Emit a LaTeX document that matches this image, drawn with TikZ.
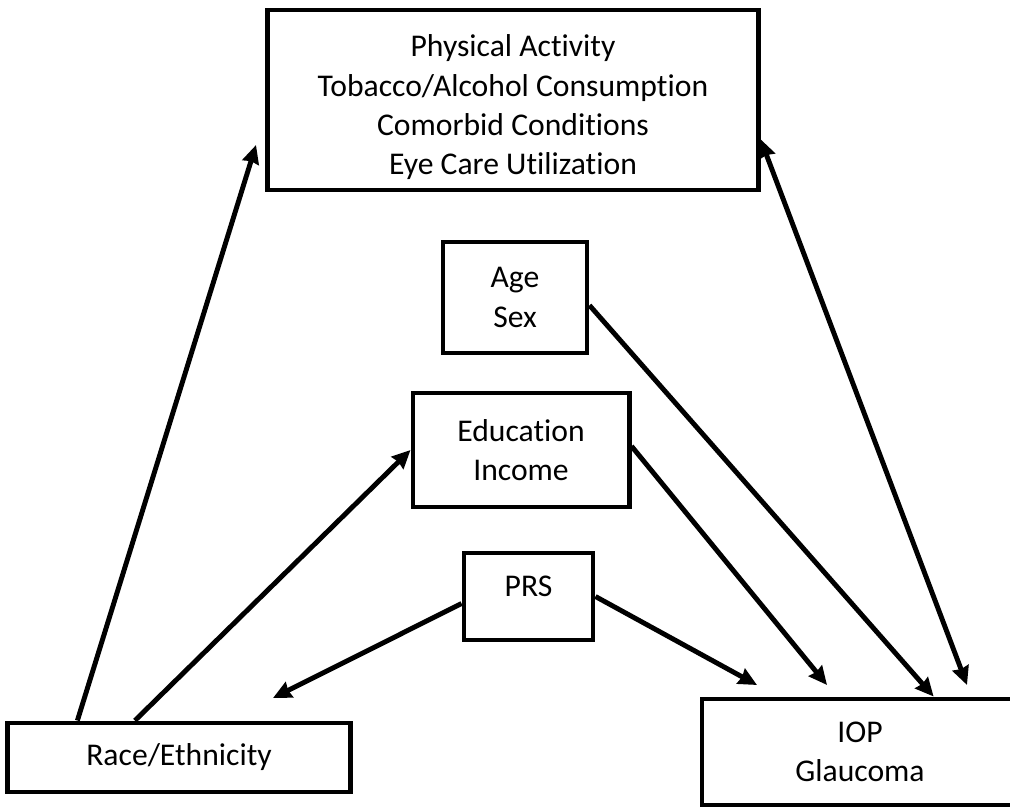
\documentclass[tikz,border=0pt]{standalone}
\usepackage{fontspec}
\setmainfont{Carlito}[Ligatures=NoCommon]
\usetikzlibrary{arrows.meta}

\begin{document}
\begin{tikzpicture}[x=0.025cm,y=-0.025cm,>={Stealth[length=13pt,width=12pt,inset=1pt]},
	every text node part/.style={align=center},
	box/.style={draw,line width=3.5pt,inner sep=0pt,font=\fontsize{22.5}{28}\selectfont},
	link/.style={line width=3.5pt}]

\useasboundingbox (0,0) rectangle (1010,807);

%%%%%%%%%%%%%%%%%%%%%%%%%%%%%%%%%%%%%%

\node[box,minimum width=12.25cm,minimum height=4.5cm] (behav) at (513,100) {\rule{0pt}{26pt}Physical Activity\\Tobacco/Alcohol Consumption\\Comorbid Conditions\\Eye Care Utilization};
\node[box,minimum width=3.6cm,minimum height=2.775cm] (agesex) at (515,297.5) {Age\\Sex};
\node[box,minimum width=5.4cm,minimum height=2.85cm] (educ) at (521,450) {Education\\Income};
\node[box,minimum width=3.225cm,minimum height=2.175cm,text depth=14pt] (prs) at (528.5,596.5) {PRS};
\node[box,minimum width=8.55cm,minimum height=1.725cm] (race) at (179,757.5) {Race/Ethnicity};
\node[box,minimum width=7.9cm,minimum height=2.65cm] (iop) at (860,752) {IOP\\Glaucoma};

%%%%%%%%%%%%%%%%%%%%%%%%%%%%%%%%%%%%%%

\coordinate (behavtip) at (256,145);
\coordinate (racetip) at (273,698);
\coordinate (iopA) at (757,685);
\coordinate (iopB) at (827,685);
\coordinate (iopC) at (967,685);

\draw[link,->] (race.160) -- (behavtip);
\draw[link,->] (race.140) -- (educ.west);

\draw[link,->] (prs.186) -- (racetip);
\draw[link,->] (prs.east) -- (iopA);
\draw[link,->] (educ.2) -- (iopB);
\draw[link,->] (agesex.-6) -- (iop.37);

\draw[link,<->] (behav.-9) -- (iopC);

\end{tikzpicture}
\end{document}
